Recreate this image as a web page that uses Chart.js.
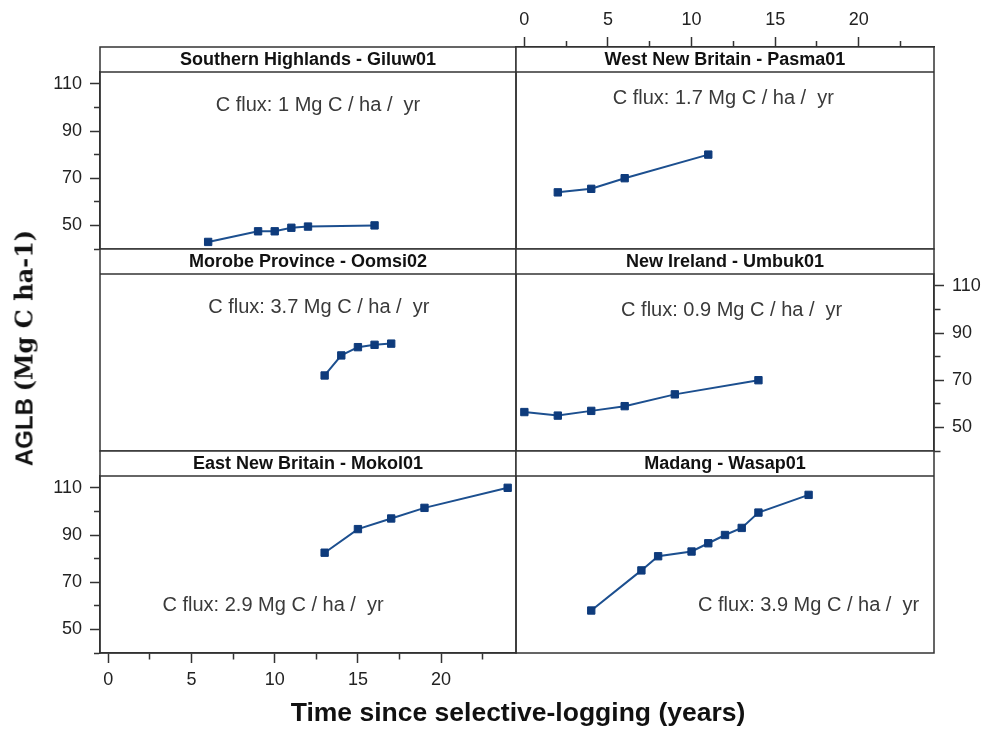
<!DOCTYPE html>
<html>
<head>
<meta charset="utf-8">
<script src="https://cdn.jsdelivr.net/npm/chart.js@4.4.0/dist/chart.umd.min.js"></script>
<style>
  html, body { margin: 0; padding: 0; background: #fff; }
  #wrap { position: relative; width: 982px; height: 729px; overflow: hidden; font-family: "Liberation Sans", Arial, sans-serif; }
  #wrap canvas { position: absolute; left: 0; top: 0; }
  #ytitle { position: absolute; left: 24px; top: 348px; transform: translate(-50%, -50%) rotate(-90deg);
            white-space: nowrap; font-size: 24px; font-weight: bold; color: #111; }
  #ytitle .unit { font-family: "DejaVu Serif", serif; }
  #xtitle { position: absolute; left: 518px; top: 712px; transform: translate(-50%, -50%);
            white-space: nowrap; font-size: 26.5px; font-weight: bold; color: #111; }
</style>
</head>
<body>
<div id="wrap">
  <canvas id="p0" width="982" height="729"></canvas>
  <canvas id="p1" width="982" height="729"></canvas>
  <canvas id="p2" width="982" height="729"></canvas>
  <canvas id="p3" width="982" height="729"></canvas>
  <canvas id="p4" width="982" height="729"></canvas>
  <canvas id="p5" width="982" height="729"></canvas>
  <div id="ytitle">AGLB <span class="unit">(Mg C ha-1)</span></div>
  <div id="xtitle">Time since selective-logging (years)</div>
</div>
<script>
// lattice plot: AGLB vs time since logging, one panel per plot

const panelTitles = ['Southern Highlands - Giluw01', 'West New Britain - Pasma01', 'Morobe Province - Oomsi02',
                     'New Ireland - Umbuk01', 'East New Britain - Mokol01', 'Madang - Wasap01'];
const fluxLabels = ['C flux: 1 Mg C / ha /  yr', 'C flux: 1.7 Mg C / ha /  yr', 'C flux: 3.7 Mg C / ha /  yr',
                    'C flux: 0.9 Mg C / ha /  yr', 'C flux: 2.9 Mg C / ha /  yr', 'C flux: 3.9 Mg C / ha /  yr'];

const giluwYears = [6, 9, 10, 11, 12, 16];
const giluwAglb = [43, 47.5, 47.5, 49, 49.5, 50];
const pasmaYears = [2, 4, 6, 11];
const pasmaAglb = [64, 65.5, 70, 80];
const oomsiYears = [13, 14, 15, 16, 17];
const oomsiAglb = [72, 80.5, 84, 85, 85.5];
const umbukYears = [0, 2, 4, 6, 9, 14];
const umbukAglb = [56.5, 55, 57, 59, 64, 70];
const mokolYears = [13, 15, 17, 19, 24];
const mokolAglb = [82.5, 92.5, 97, 101.5, 110];
const wasapYears = [4, 7, 8, 10, 11, 12, 13, 14, 17];
const wasapAglb = [58, 75, 81, 83, 86.5, 90, 93, 99.5, 107];

const xTickLabels = [0, 5, 10, 15, 20];
const xMinorTicks = [2.5, 7.5, 12.5, 17.5, 22.5];
const yTickLabels = [50, 70, 90, 110];
const yMinorTicks = [40, 60, 80, 100];

// layout (page pixels)
const W = 982, H = 729;
const COLS = [[100, 516], [516, 934]];
const TOP = 47, STRIP_H = 25, DATA_H = 177;
const X_MIN = -0.5, X_MAX = 24.5, Y_MIN = 40, Y_MAX = 115;
const Y_AXIS_W = 58, Y_AXIS_W_R = 48, X_AXIS_H = 50;
const FONT = '"Liberation Sans", Arial, sans-serif';
const FRAME = '#333';
const LINE = '#1c4f8f', MARK = '#0e3b7c';

const panels = [
  { years: giluwYears, aglb: giluwAglb, col: 0, row: 0, yAxis: 'left' },
  { years: pasmaYears, aglb: pasmaAglb, col: 1, row: 0, xAxis: 'top' },
  { years: oomsiYears, aglb: oomsiAglb, col: 0, row: 1 },
  { years: umbukYears, aglb: umbukAglb, col: 1, row: 1, yAxis: 'right' },
  { years: mokolYears, aglb: mokolAglb, col: 0, row: 2, yAxis: 'left', xAxis: 'bottom' },
  { years: wasapYears, aglb: wasapAglb, col: 1, row: 2 }
];
// where the flux note sits, in data units
const notePos = [[12.6, 101], [11.9, 103.6], [12.65, 100.6], [12.4, 99.7], [9.9, 60.3], [17, 60.3]];

// minor ticks are shorter: dash the tick so only the part next to the frame shows
function tickDash(position, major) {
  if (major) return [];
  return (position === 'left' || position === 'top') ? [0, 4, 6, 100] : [6, 100];
}

function tickList(major, minor) {
  return major.concat(minor).sort((a, b) => a - b).map(v => ({ value: v }));
}

const latticePlugin = {
  id: 'lattice',
  afterDraw(chart, args, opts) {
    const { ctx, chartArea: a } = chart;
    const dataTop = opts.stripInside ? a.top + STRIP_H : a.top;
    const stripTop = dataTop - STRIP_H;
    ctx.save();
    ctx.fillStyle = '#fff';
    ctx.fillRect(a.left, stripTop, a.right - a.left, STRIP_H);
    ctx.strokeStyle = FRAME;
    ctx.lineWidth = 1.5;
    ctx.strokeRect(a.left, stripTop, a.right - a.left, a.bottom - stripTop);
    ctx.beginPath();
    ctx.moveTo(a.left, dataTop);
    ctx.lineTo(a.right, dataTop);
    ctx.stroke();
    ctx.textAlign = 'center';
    ctx.textBaseline = 'middle';
    ctx.fillStyle = '#111';
    ctx.font = 'bold 18px ' + FONT;
    ctx.fillText(opts.title, (a.left + a.right) / 2, stripTop + STRIP_H / 2 + 1);
    ctx.fillStyle = '#3a3a3a';
    ctx.font = '20px ' + FONT;
    ctx.fillText(opts.note, chart.scales.x.getPixelForValue(opts.noteAt[0]),
                 chart.scales.y.getPixelForValue(opts.noteAt[1]));
    ctx.restore();
  }
};

panels.forEach((p, i) => {
  const stripTop = TOP + p.row * (STRIP_H + DATA_H);
  const dataTop = stripTop + STRIP_H;
  const dataBottom = dataTop + DATA_H;
  const topAxis = p.xAxis === 'top';
  const chartTop = topAxis ? stripTop : dataTop;
  // panel with the top axis has its strip inside the plot area, so stretch y to cover it
  const yMax = topAxis ? Y_MAX + STRIP_H * (Y_MAX - Y_MIN) / DATA_H : Y_MAX;

  const padding = {
    left: COLS[p.col][0] - (p.yAxis === 'left' ? Y_AXIS_W : 0),
    right: W - COLS[p.col][1] - (p.yAxis === 'right' ? Y_AXIS_W_R : 0),
    top: topAxis ? 0 : chartTop,
    bottom: H - dataBottom - (p.xAxis === 'bottom' ? X_AXIS_H : 0)
  };

  const xPos = p.xAxis || 'bottom';
  const yPos = p.yAxis || 'left';

  new Chart(document.getElementById('p' + i), {
    type: 'line',
    data: {
      datasets: [{
        data: p.years.map((x, k) => ({ x, y: p.aglb[k] })),
        borderColor: LINE,
        borderWidth: 2,
        pointStyle: 'rect',
        pointRadius: 5.2,
        pointBorderWidth: 1,
        pointBackgroundColor: MARK,
        pointBorderColor: MARK,
        tension: 0
      }]
    },
    options: {
      responsive: false,
      animation: false,
      events: [],
      layout: { padding },
      plugins: {
        legend: { display: false },
        tooltip: { enabled: false },
        lattice: { title: panelTitles[i], note: fluxLabels[i], noteAt: notePos[i], stripInside: topAxis }
      },
      scales: {
        x: {
          type: 'linear',
          display: !!p.xAxis,
          position: xPos,
          min: X_MIN,
          max: X_MAX,
          afterBuildTicks: s => { s.ticks = tickList(xTickLabels, xMinorTicks); },
          afterFit: s => { if (p.xAxis) s.height = topAxis ? chartTop : X_AXIS_H; },
          ticks: {
            autoSkip: false,
            maxRotation: 0,
            padding: 6,
            color: '#222',
            font: { family: FONT, size: 18 },
            callback: v => xTickLabels.includes(v) ? String(v) : ''
          },
          grid: {
            drawOnChartArea: false,
            drawTicks: true,
            tickLength: 10,
            tickColor: FRAME,
            tickWidth: 1.5,
            tickBorderDash: c => tickDash(xPos, xTickLabels.includes(c.tick.value))
          },
          border: { display: true, color: FRAME, width: 1.5 }
        },
        y: {
          type: 'linear',
          display: !!p.yAxis,
          position: yPos,
          min: Y_MIN,
          max: yMax,
          afterBuildTicks: s => { s.ticks = tickList(yTickLabels, yMinorTicks); },
          afterFit: s => { if (p.yAxis) s.width = yPos === 'right' ? Y_AXIS_W_R : Y_AXIS_W; },
          ticks: {
            autoSkip: false,
            padding: 8,
            color: '#222',
            font: { family: FONT, size: 18 },
            callback: v => yTickLabels.includes(v) ? String(v) : ''
          },
          grid: {
            drawOnChartArea: false,
            drawTicks: true,
            tickLength: 10,
            tickColor: FRAME,
            tickWidth: 1.5,
            tickBorderDash: c => tickDash(yPos, yTickLabels.includes(c.tick.value))
          },
          border: { display: true, color: FRAME, width: 1.5 }
        }
      }
    },
    plugins: [latticePlugin]
  });
});
</script>
</body>
</html>
